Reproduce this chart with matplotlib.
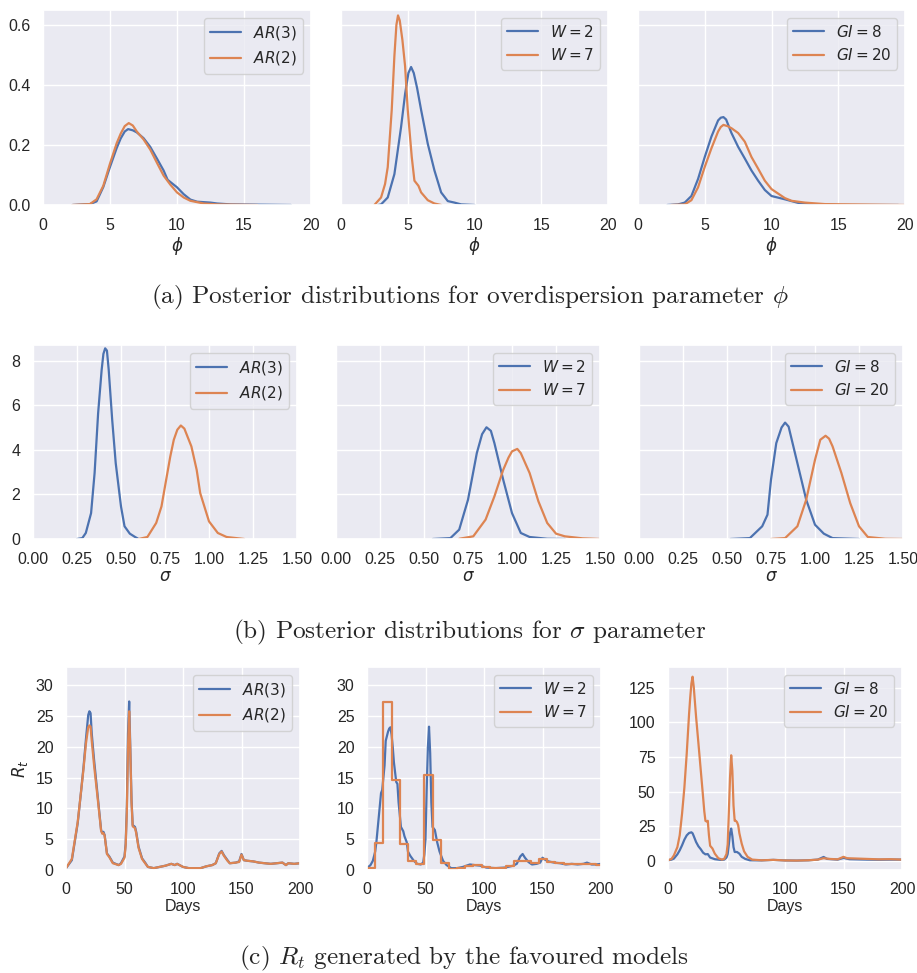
import matplotlib
matplotlib.use("Agg")
import matplotlib.pyplot as plt
import numpy as np
import seaborn as sns

# ---- posterior densities for phi ----
phi_ar3_x = [2.2, 3.5, 4.0, 4.5, 5.0, 5.5, 5.8, 6.1, 6.35, 6.7, 7.0, 7.5, 8.0, 8.5, 9.0, 9.3, 10.0, 10.5, 11.0, 11.5, 12.5, 13.0, 14.0, 18.5]
phi_ar3_y = [0.0, 0.003, 0.012, 0.06, 0.127, 0.19, 0.222, 0.245, 0.253, 0.249, 0.242, 0.223, 0.194, 0.155, 0.115, 0.084, 0.059, 0.036, 0.018, 0.011, 0.008, 0.005, 0.002, 0.0]
phi_ar2_x = [2.2, 3.5, 4.0, 4.5, 5.0, 5.5, 5.8, 6.1, 6.4, 6.7, 7.0, 7.5, 8.0, 8.5, 9.0, 9.5, 10.0, 10.5, 11.0, 12.0, 13.0, 16.0]
phi_ar2_y = [0.0, 0.003, 0.019, 0.064, 0.138, 0.206, 0.238, 0.263, 0.273, 0.265, 0.245, 0.219, 0.185, 0.141, 0.098, 0.068, 0.042, 0.025, 0.014, 0.005, 0.002, 0.0]

phi_w2_x = [2.8, 3.0, 3.5, 4.0, 4.5, 4.8, 5.05, 5.25, 5.45, 5.7, 6.0, 6.5, 7.0, 7.5, 8.0, 8.5, 9.0, 10.0]
phi_w2_y = [0.0, 0.002, 0.025, 0.103, 0.26, 0.37, 0.44, 0.46, 0.44, 0.39, 0.317, 0.204, 0.115, 0.042, 0.013, 0.008, 0.002, 0.0]
phi_w7_x = [2.5, 3.0, 3.3, 3.5, 3.8, 4.0, 4.15, 4.27, 4.4, 4.6, 4.8, 5.0, 5.3, 5.5, 5.8, 6.0, 6.5, 7.0, 7.5]
phi_w7_y = [0.0, 0.025, 0.07, 0.126, 0.317, 0.497, 0.6, 0.632, 0.615, 0.55, 0.463, 0.317, 0.16, 0.081, 0.064, 0.042, 0.016, 0.005, 0.0]

phi_gi8_x = [2.2, 3.0, 3.5, 4.0, 4.5, 5.0, 5.5, 6.0, 6.2, 6.4, 6.6, 7.0, 7.5, 8.0, 8.5, 9.0, 9.5, 10.0, 11.0, 12.0, 13.0, 15.0, 19.5]
phi_gi8_y = [0.0, 0.002, 0.008, 0.03, 0.087, 0.16, 0.228, 0.282, 0.291, 0.293, 0.285, 0.24, 0.194, 0.155, 0.115, 0.081, 0.05, 0.03, 0.019, 0.007, 0.003, 0.0, 0.0]
phi_gi20_x = [2.5, 3.5, 4.0, 4.5, 5.0, 5.5, 6.0, 6.2, 6.4, 6.7, 7.0, 7.5, 8.0, 8.5, 9.0, 9.5, 10.0, 10.5, 11.0, 11.5, 12.5, 14.0, 20.0]
phi_gi20_y = [0.0, 0.002, 0.016, 0.059, 0.127, 0.189, 0.245, 0.26, 0.267, 0.263, 0.256, 0.24, 0.211, 0.16, 0.121, 0.081, 0.053, 0.038, 0.023, 0.014, 0.008, 0.003, 0.0]

# ---- posterior densities for sigma ----
sig_ar3_x = [0.25, 0.28, 0.30, 0.33, 0.35, 0.37, 0.39, 0.40, 0.41, 0.42, 0.43, 0.45, 0.47, 0.50, 0.52, 0.55, 0.58, 0.60]
sig_ar3_y = [0.0, 0.04, 0.27, 1.16, 2.96, 5.64, 7.58, 8.3, 8.55, 8.45, 7.6, 5.34, 3.4, 1.46, 0.57, 0.24, 0.09, 0.0]
sig_ar2_x = [0.60, 0.65, 0.70, 0.73, 0.75, 0.78, 0.80, 0.82, 0.84, 0.86, 0.87, 0.90, 0.93, 0.95, 1.00, 1.05, 1.10, 1.20]
sig_ar2_y = [0.0, 0.09, 0.72, 1.46, 2.36, 3.7, 4.45, 4.9, 5.09, 4.95, 4.75, 4.15, 3.1, 2.06, 0.79, 0.27, 0.09, 0.0]

sig_w2_x = [0.55, 0.65, 0.70, 0.75, 0.80, 0.83, 0.855, 0.88, 0.90, 0.95, 1.00, 1.05, 1.10, 1.20, 1.30]
sig_w2_y = [0.0, 0.04, 0.42, 1.76, 3.85, 4.7, 5.01, 4.85, 4.3, 2.66, 1.16, 0.27, 0.09, 0.01, 0.0]
sig_w7_x = [0.70, 0.78, 0.85, 0.90, 0.95, 0.98, 1.00, 1.03, 1.05, 1.10, 1.15, 1.20, 1.25, 1.30, 1.40, 1.50]
sig_w7_y = [0.01, 0.12, 0.87, 1.91, 3.1, 3.65, 3.93, 4.04, 3.85, 2.96, 1.69, 0.72, 0.24, 0.12, 0.03, 0.0]

sig_gi8_x = [0.52, 0.63, 0.70, 0.73, 0.75, 0.78, 0.81, 0.83, 0.85, 0.90, 0.95, 1.00, 1.05, 1.10, 1.25]
sig_gi8_y = [0.0, 0.04, 0.57, 1.09, 2.66, 4.3, 5.0, 5.22, 5.04, 3.4, 1.76, 0.64, 0.24, 0.04, 0.0]
sig_gi20_x = [0.75, 0.83, 0.90, 0.95, 1.00, 1.03, 1.06, 1.08, 1.10, 1.15, 1.20, 1.25, 1.30, 1.40, 1.50]
sig_gi20_y = [0.0, 0.04, 0.57, 1.76, 3.55, 4.45, 4.63, 4.5, 4.15, 2.96, 1.61, 0.57, 0.09, 0.01, 0.0]

# ---- R_t trajectories ----
rt_ar3_d = [0, 5, 10, 13, 15, 17, 19, 20, 21, 22, 24, 26, 28, 30, 31, 32, 33, 35, 37, 40, 45, 47, 50, 51, 52, 53, 54,
            55, 56, 57, 59, 60, 62, 65, 68, 70, 75, 80, 85, 90, 93, 95, 100, 105, 110, 115, 120, 125, 128, 131, 133,
            135, 138, 140, 145, 148, 150, 152, 155, 160, 165, 170, 175, 180, 185, 188, 190, 195, 200]
rt_ar3 = [0.3, 1.6, 7.6, 13.0, 16.8, 21.2, 25.2, 25.8, 25.5, 22.2, 17.9, 14.1, 10.3, 6.5, 6.0, 6.2, 5.7, 2.7, 2.2, 1.2,
          0.8, 1.1, 2.2, 4.3, 10.3, 22.2, 27.4, 19.5, 11.4, 7.3, 7.0, 6.2, 3.8, 1.9, 1.1, 0.5, 0.3, 0.5, 0.7, 1.0, 0.8,
          1.0, 0.5, 0.3, 0.3, 0.3, 0.6, 0.8, 1.1, 2.7, 3.1, 2.4, 1.6, 1.1, 1.2, 1.4, 2.6, 1.6, 1.5, 1.4, 1.2, 1.1,
          1.0, 1.1, 1.2, 0.8, 1.1, 1.0, 1.1]
rt_ar2_d = rt_ar3_d
rt_ar2 = [0.3, 1.8, 7.8, 13.0, 16.5, 20.5, 23.2, 23.5, 23.3, 21.0, 17.0, 13.5, 10.0, 6.4, 5.9, 6.0, 5.6, 2.6, 2.1, 1.1,
          0.8, 1.0, 2.0, 4.0, 9.5, 20.0, 25.8, 19.0, 11.0, 7.1, 6.8, 6.0, 3.6, 1.8, 1.0, 0.5, 0.3, 0.5, 0.7, 1.0, 0.8,
          1.0, 0.5, 0.3, 0.3, 0.3, 0.6, 0.8, 1.1, 2.6, 3.0, 2.3, 1.5, 1.1, 1.2, 1.3, 2.5, 1.6, 1.5, 1.4, 1.2, 1.1,
          1.0, 1.1, 1.2, 0.8, 1.1, 1.0, 1.1]

rt_w2_d = [0, 3, 5, 7, 8, 10, 12, 13, 15, 16, 18, 19, 20, 21, 22, 23, 25, 26, 27, 28, 29, 31, 32, 34, 35, 37, 40, 43,
           46, 48, 49, 50, 51, 52, 53, 54, 55, 56, 58, 60, 62, 65, 68, 72, 77, 82, 88, 92, 97, 102, 110, 118, 125,
           128, 131, 133, 135, 138, 141, 145, 148, 150, 152, 155, 160, 165, 170, 175, 180, 185, 188, 192, 196, 200]
rt_w2 = [0.3, 0.8, 1.5, 3.0, 4.5, 8.5, 12.5, 13.0, 17.0, 21.0, 22.5, 23.0, 23.2, 22.0, 20.0, 17.5, 14.3, 14.0, 11.0,
         9.0, 7.0, 6.3, 5.5, 4.5, 3.0, 2.3, 1.5, 1.0, 0.9, 1.2, 2.5, 5.0, 13.0, 19.8, 23.3, 19.0, 11.0, 7.0, 6.5,
         4.5, 3.0, 1.5, 0.8, 0.3, 0.3, 0.5, 0.9, 0.8, 0.7, 0.4, 0.3, 0.4, 0.7, 1.0, 2.2, 2.6, 2.0, 1.3, 0.9, 1.0,
         1.2, 2.0, 1.7, 1.4, 1.2, 1.1, 0.9, 1.0, 0.9, 1.0, 1.2, 0.9, 0.9, 1.0]
# W = 7 is piecewise constant over weekly windows (last entry closes the final window at day 200)
rt_w7_start = list(range(0, 197, 7)) + [200]
rt_w7 = [0.3, 4.4, 27.3, 14.7, 4.3, 1.4, 1.0, 15.4, 4.9, 1.2, 0.2, 0.4, 0.6, 0.8, 0.5, 0.3, 0.3, 0.6, 1.4, 1.4,
         1.1, 1.8, 1.3, 1.1, 0.9, 0.9, 0.9, 1.0, 0.8, 0.8]

rt_gi20_d = [0, 3, 5, 8, 10, 12, 14, 16, 18, 19, 20, 21, 22, 24, 26, 28, 30, 31, 32, 33, 34, 35, 36, 38, 40, 43, 46,
             48, 50, 51, 52, 53, 54, 55, 56, 57, 58, 59, 60, 61, 63, 65, 68, 72, 80, 90, 100, 110, 120, 128, 133,
             138, 145, 150, 153, 160, 170, 180, 190, 200]
rt_gi20 = [0.5, 1.5, 4.0, 10.0, 18.5, 34.0, 53.0, 77.5, 106.0, 118.0, 128.0, 133.0, 125.7, 104.0, 85.0, 65.5, 46.0,
           36.0, 29.0, 28.5, 29.0, 18.5, 11.0, 9.0, 5.3, 2.0, 1.0, 1.5, 5.0, 12.0, 35.0, 60.0, 76.3, 65.0, 40.0,
           29.0, 29.0, 28.0, 25.8, 20.0, 12.5, 7.0, 3.0, 1.0, 0.5, 0.8, 0.4, 0.3, 0.5, 1.0, 2.0, 1.5, 1.2, 3.0,
           2.0, 1.8, 1.5, 1.2, 1.3, 1.0]
rt_gi8_d = [0, 3, 5, 8, 10, 12, 14, 16, 18, 20, 21, 22, 24, 26, 28, 30, 32, 34, 36, 40, 45, 48, 50, 51, 52, 53, 54,
            55, 56, 57, 59, 61, 63, 66, 70, 80, 90, 100, 110, 120, 128, 133, 136, 145, 150, 155, 170, 180, 190, 200]
rt_gi8 = [0.5, 1.0, 1.7, 4.8, 7.7, 11.3, 15.4, 18.5, 20.2, 20.7, 20.0, 18.0, 13.7, 10.6, 8.5, 6.0, 4.8, 5.0, 2.5,
          1.3, 0.8, 1.0, 2.5, 5.0, 12.0, 20.0, 23.4, 18.0, 10.0, 6.5, 6.5, 5.3, 3.0, 1.5, 0.5, 0.4, 0.8, 0.4, 0.3,
          0.5, 1.0, 2.9, 1.5, 1.0, 2.2, 1.3, 1.0, 0.9, 1.0, 1.0]

labels_ar = [r"$AR(3)$", r"$AR(2)$"]
labels_w = [r"$W=2$", r"$W=7$"]
labels_gi = [r"$GI=8$", r"$GI=20$"]

sns.set_theme(style="darkgrid")
plt.rcParams["font.family"] = ["Liberation Sans", "DejaVu Sans"]
BLUE, ORANGE = sns.color_palette("deep")[:2]

W, H = 917, 973
fig = plt.figure(figsize=(W / 100, H / 100), dpi=100)


def box(x0, x1, ytop, ybot):
    return [x0 / W, 1 - ybot / H, (x1 - x0) / W, (ybot - ytop) / H]


def style(ax, show_y=True):
    ax.tick_params(labelsize=11.5, pad=3)
    if not show_y:
        ax.tick_params(labelleft=False)
    ax.legend(loc="upper right", fontsize=11, frameon=True)


# row (a): phi
row_a = [
    (phi_ar3_x, phi_ar3_y, phi_ar2_x, phi_ar2_y, labels_ar, (43, 311)),
    (phi_w2_x, phi_w2_y, phi_w7_x, phi_w7_y, labels_w, (341, 608)),
    (phi_gi8_x, phi_gi8_y, phi_gi20_x, phi_gi20_y, labels_gi, (638, 905)),
]
for i, (x1, y1, x2, y2, labs, (l, r)) in enumerate(row_a):
    ax = fig.add_axes(box(l, r, 10, 205))
    ax.plot(x1, y1, color=BLUE, lw=1.6, label=labs[0])
    ax.plot(x2, y2, color=ORANGE, lw=1.6, label=labs[1])
    ax.set_xlim(0, 20)
    ax.set_ylim(0, 0.65)
    ax.set_xticks([0, 5, 10, 15, 20])
    ax.set_yticks([0.0, 0.2, 0.4, 0.6])
    ax.set_xlabel(r"$\phi$", fontsize=12, labelpad=2)
    style(ax, show_y=(i == 0))

# row (b): sigma
row_b = [
    (sig_ar3_x, sig_ar3_y, sig_ar2_x, sig_ar2_y, labels_ar, (33, 297)),
    (sig_w2_x, sig_w2_y, sig_w7_x, sig_w7_y, labels_w, (336, 600)),
    (sig_gi8_x, sig_gi8_y, sig_gi20_x, sig_gi20_y, labels_gi, (639, 903)),
]
for i, (x1, y1, x2, y2, labs, (l, r)) in enumerate(row_b):
    ax = fig.add_axes(box(l, r, 345, 539))
    ax.plot(x1, y1, color=BLUE, lw=1.6, label=labs[0])
    ax.plot(x2, y2, color=ORANGE, lw=1.6, label=labs[1])
    ax.set_xlim(0, 1.5)
    ax.set_ylim(0, 8.7)
    ax.set_xticks([0, 0.25, 0.5, 0.75, 1.0, 1.25, 1.5])
    ax.set_xticklabels(["0.00", "0.25", "0.50", "0.75", "1.00", "1.25", "1.50"])
    ax.set_yticks([0, 2, 4, 6, 8])
    ax.set_xlabel(r"$\sigma$", fontsize=12, labelpad=2)
    style(ax, show_y=(i == 0))

# row (c): R_t
ax = fig.add_axes(box(66, 300, 667, 870))
ax.plot(rt_ar3_d, rt_ar3, color=BLUE, lw=1.6, label=labels_ar[0])
ax.plot(rt_ar2_d, rt_ar2, color=ORANGE, lw=1.6, label=labels_ar[1])
ax.set_ylim(0, 33)
ax.set_ylabel(r"$R_t$", fontsize=12)
ax.set_yticks([0, 5, 10, 15, 20, 25, 30])

ax2 = fig.add_axes(box(367, 601, 667, 870))
ax2.plot(rt_w2_d, rt_w2, color=BLUE, lw=1.6, label=labels_w[0])
ax2.step(rt_w7_start, rt_w7, where="post", color=ORANGE, lw=1.6, label=labels_w[1])
ax2.set_ylim(0, 33)
ax2.set_yticks([0, 5, 10, 15, 20, 25, 30])

ax3 = fig.add_axes(box(668, 902, 667, 870))
ax3.plot(rt_gi8_d, rt_gi8, color=BLUE, lw=1.6, label=labels_gi[0])
ax3.plot(rt_gi20_d, rt_gi20, color=ORANGE, lw=1.6, label=labels_gi[1])
ax3.set_ylim(-6.5, 140)
ax3.set_yticks([0, 25, 50, 75, 100, 125])

for a in (ax, ax2, ax3):
    a.set_xlim(0, 200)
    a.set_xticks([0, 50, 100, 150, 200])
    a.set_xlabel("Days", fontsize=11.5, labelpad=1)
    style(a)

# sub-captions in a LaTeX-like serif
cap_kw = dict(ha="center", va="center", fontsize=18.2, family="cmr10", math_fontfamily="cm")
fig.text(470 / W, 1 - 297 / H, r"(a) Posterior distributions for overdispersion parameter $\phi$", **cap_kw)
fig.text(470 / W, 1 - 632 / H, r"(b) Posterior distributions for $\sigma$ parameter", **cap_kw)
fig.text(464 / W, 1 - 958 / H, r"(c) $R_t$ generated by the favoured models", **cap_kw)

fig.savefig("out.png", dpi=100)
